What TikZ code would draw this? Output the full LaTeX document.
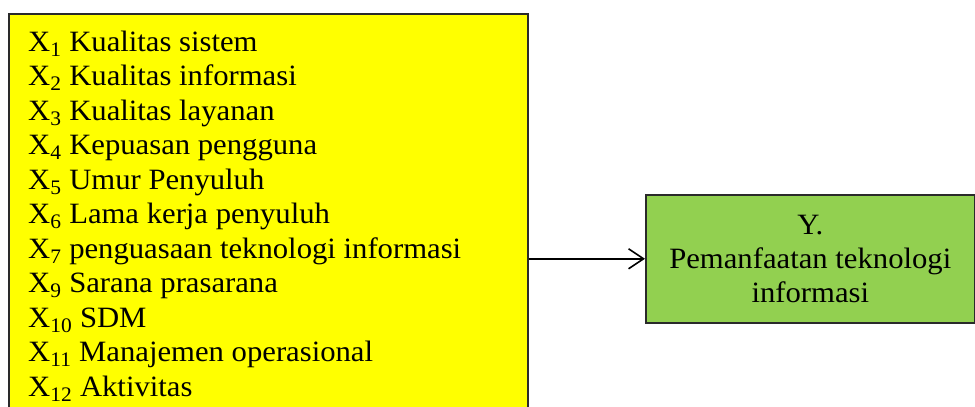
\documentclass[tikz,border=0pt]{standalone}
\usepackage{fontspec}
\setmainfont[FakeStretch=1.04]{Liberation Serif}
\usetikzlibrary{arrows.meta}
\definecolor{boxyellow}{HTML}{FFFF00}
\definecolor{boxgreen}{HTML}{92D050}
\definecolor{edgegray}{HTML}{2A2A2A}
\tikzset{
  panel/.style={draw=edgegray, line width=1.6pt, inner sep=0pt, anchor=north west},
  listtext/.style={anchor=north west, align=left, inner sep=0pt,
    font=\fontsize{29.5pt}{34.5pt}\selectfont},
  ytext/.style={align=center, inner sep=0pt,
    font=\fontsize{29.5pt}{34pt}\selectfont},
  link/.style={line width=1.6pt, -{Straight Barb[length=15pt,width=20pt]}}
}
\begin{document}
\begin{tikzpicture}[x=1pt,y=-1pt]
\useasboundingbox (0,0) rectangle (975,407);
\clip (0,0) rectangle (975,407);
\node[panel, fill=boxyellow, minimum width=519pt, minimum height=420pt] (xbox) at (8,13) {};
\node[listtext] (xlist) at (28,30.5) {%
X\textsubscript{1} Kualitas sistem\\
X\textsubscript{2} Kualitas informasi\\
X\textsubscript{3} Kualitas layanan\\
X\textsubscript{4} Kepuasan pengguna\\
X\textsubscript{5} Umur Penyuluh\\
X\textsubscript{6} Lama kerja penyuluh\\
X\textsubscript{7} penguasaan teknologi informasi\\
X\textsubscript{9} Sarana prasarana\\
X\textsubscript{10} SDM\\
X\textsubscript{11} Manajemen operasional\\
X\textsubscript{12} Aktivitas};
\node[panel, fill=boxgreen, minimum width=329pt, minimum height=128pt] (ybox) at (645,194) {};
\node[ytext] (ylabel) at (ybox.center) {Y.\\Pemanfaatan teknologi\\informasi};
\draw[link] (xbox.east |- ybox.west) -- (ybox.west);
\end{tikzpicture}
\end{document}
